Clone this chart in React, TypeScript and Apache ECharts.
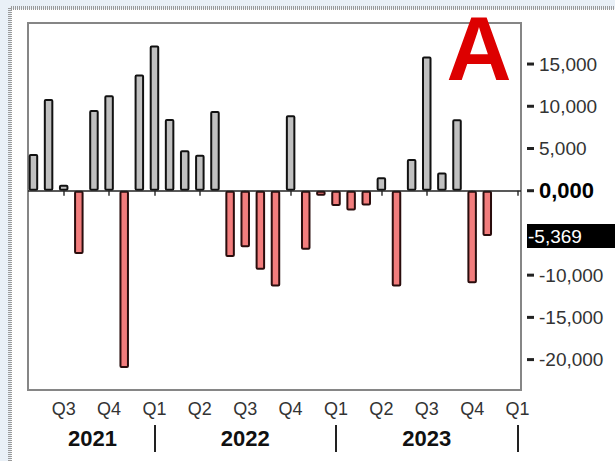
import { useEffect, useRef } from 'react';
import * as echarts from 'echarts';

// Monthly values, May 2021 .. Nov 2023
const months = [
  '2021-05', '2021-06', '2021-07', '2021-08', '2021-09', '2021-10', '2021-11', '2021-12',
  '2022-01', '2022-02', '2022-03', '2022-04', '2022-05', '2022-06', '2022-07', '2022-08',
  '2022-09', '2022-10', '2022-11', '2022-12', '2023-01', '2023-02', '2023-03', '2023-04',
  '2023-05', '2023-06', '2023-07', '2023-08', '2023-09', '2023-10', '2023-11',
];
const values = [
  4350, 10850, 700, -7500, 9550, 11300, -21000, 13750,
  17200, 8500, 4800, 4250, 9450, -7850, -6700, -9350,
  -11350, 8950, -7000, -600, -1800, -2350, -1750, 1600,
  -11350, 3750, 15900, 2150, 8450, -10950, -5369,
];
const quarterTicks = [2, 5, 8, 11, 14, 17, 20, 23, 26, 29, 32];
const quarterLabels = ['Q3', 'Q4', 'Q1', 'Q2', 'Q3', 'Q4', 'Q1', 'Q2', 'Q3', 'Q4', 'Q1'];
const yearSeparators = [8, 20, 32];
const yearLabelPositions = [3.9, 14, 26];
const yearLabels = ['2021', '2022', '2023'];
const yTicks = [-20000, -15000, -10000, -5000, 0, 5000, 10000, 15000];
const lastValue = values[values.length - 1];

const fmt = (v: number) => {
  if (v === 0) return '0,000';
  return (v < 0 ? '-' : '') + Math.abs(v).toLocaleString('en-US');
};

export default function App() {
  const ref = useRef<HTMLDivElement>(null);
  useEffect(() => {
    if (!ref.current) return;
    const chart = echarts.init(ref.current, null, { renderer: 'svg' });
    const font = "'Liberation Sans', Arial, sans-serif";
    chart.setOption({
      animation: false,
      backgroundColor: '#ffffff',
      graphic: [
        { type: 'rect', z: -10, shape: { x: 0, y: 0, width: 615, height: 461 }, style: { fill: '#e9f0f7' } },
        { type: 'rect', z: -9, shape: { x: 11, y: 9, width: 604, height: 452 }, style: { fill: '#ffffff' } },
        { type: 'line', z: -8, shape: { x1: 11, y1: 8, x2: 615, y2: 8 }, style: { stroke: '#9a9a9a', lineWidth: 4, lineDash: [1, 1] } },
        { type: 'line', z: -8, shape: { x1: 10, y1: 8, x2: 10, y2: 461 }, style: { stroke: '#9a9a9a', lineWidth: 4, lineDash: [1, 1] } },
        {
          type: 'text', z: 100, x: 479, y: 49,
          style: {
            text: 'A', x: 0, y: 0, fill: '#dd0000', fontSize: 90, fontWeight: 'bold',
            fontFamily: font, align: 'center', verticalAlign: 'middle',
          },
        },
      ],
      grid: {
        left: 28, right: 94, top: 23, bottom: 71,
        show: true, borderColor: '#868686', borderWidth: 2, backgroundColor: 'transparent',
      },
      xAxis: [
        {
          type: 'value', min: -0.36, max: 32.23, position: 'bottom',
          axisLine: { show: false }, splitLine: { show: false },
          axisTick: { show: true, customValues: quarterTicks, length: 5, lineStyle: { color: '#333', width: 1.5 } },
          axisLabel: {
            customValues: quarterTicks, margin: 10, fontSize: 18, color: '#333', fontFamily: font,
            formatter: (v: number) => quarterLabels[quarterTicks.indexOf(Math.round(v))] ?? '',
          },
        },
        {
          type: 'value', min: -0.36, max: 32.23, position: 'bottom', offset: 35,
          axisLine: { show: false }, splitLine: { show: false },
          axisTick: { show: true, customValues: yearSeparators, length: 27, lineStyle: { color: '#222', width: 2 } },
          axisLabel: {
            customValues: yearLabelPositions, margin: 2, fontSize: 22, fontWeight: 'bold', color: '#111', fontFamily: font,
            formatter: (v: number) => yearLabels[yearLabelPositions.indexOf(v)] ?? (v < 8 ? '2021' : v < 20 ? '2022' : '2023'),
          },
        },
      ],
      yAxis: {
        type: 'value', min: -23600, max: 19860, position: 'right',
        axisLine: { show: false }, splitLine: { show: false },
        axisTick: { show: false },
        axisLabel: {
          customValues: yTicks, margin: 6, fontSize: 19, color: '#333', fontFamily: font,
          formatter: (v: number) => (v === 0 ? '{t|}{s|}{b|0,000}' : v === -5000 ? '' : '{t|}{s|}' + fmt(v)),
          rich: {
            t: { width: 7, height: 3, backgroundColor: '#222', verticalAlign: 'middle' },
            s: { width: 5, height: 3 },
            b: { fontSize: 22, fontWeight: 'bold', color: '#000', fontFamily: font },
          },
        },
      },
      series: [
        {
          type: 'bar', xAxisIndex: 0, barWidth: 9.5,
          data: values.map((v, i) => ({
            value: [i, v],
            name: months[i],
            itemStyle: v >= 0
              ? { color: '#c0c0c0', borderColor: '#111111', borderWidth: 2, borderRadius: 1 }
              : { color: '#f27d7d', borderColor: '#2a0d0d', borderWidth: 2, borderRadius: 1 },
          })),
          markLine: {
            silent: true, symbol: ['none', 'none'], animation: false,
            data: [
              { yAxis: 0, lineStyle: { color: '#222', width: 1.5, type: 'solid' }, label: { show: false } },
              {
                yAxis: lastValue, lineStyle: { color: 'rgba(0,0,0,0)', width: 1 },
                label: {
                  show: true, position: 'end', distance: 6, formatter: () => fmt(lastValue),
                  color: '#fff', backgroundColor: '#000', fontSize: 19, fontFamily: font, opacity: 1,
                  padding: [3, 40, 2, 1], lineHeight: 19,
                },
              },
            ],
          },
        },
      ],
    });
    return () => chart.dispose();
  }, []);
  return <div ref={ref} style={{ position: 'fixed', left: 0, top: 0, width: 615, height: 461 }} />;
}
